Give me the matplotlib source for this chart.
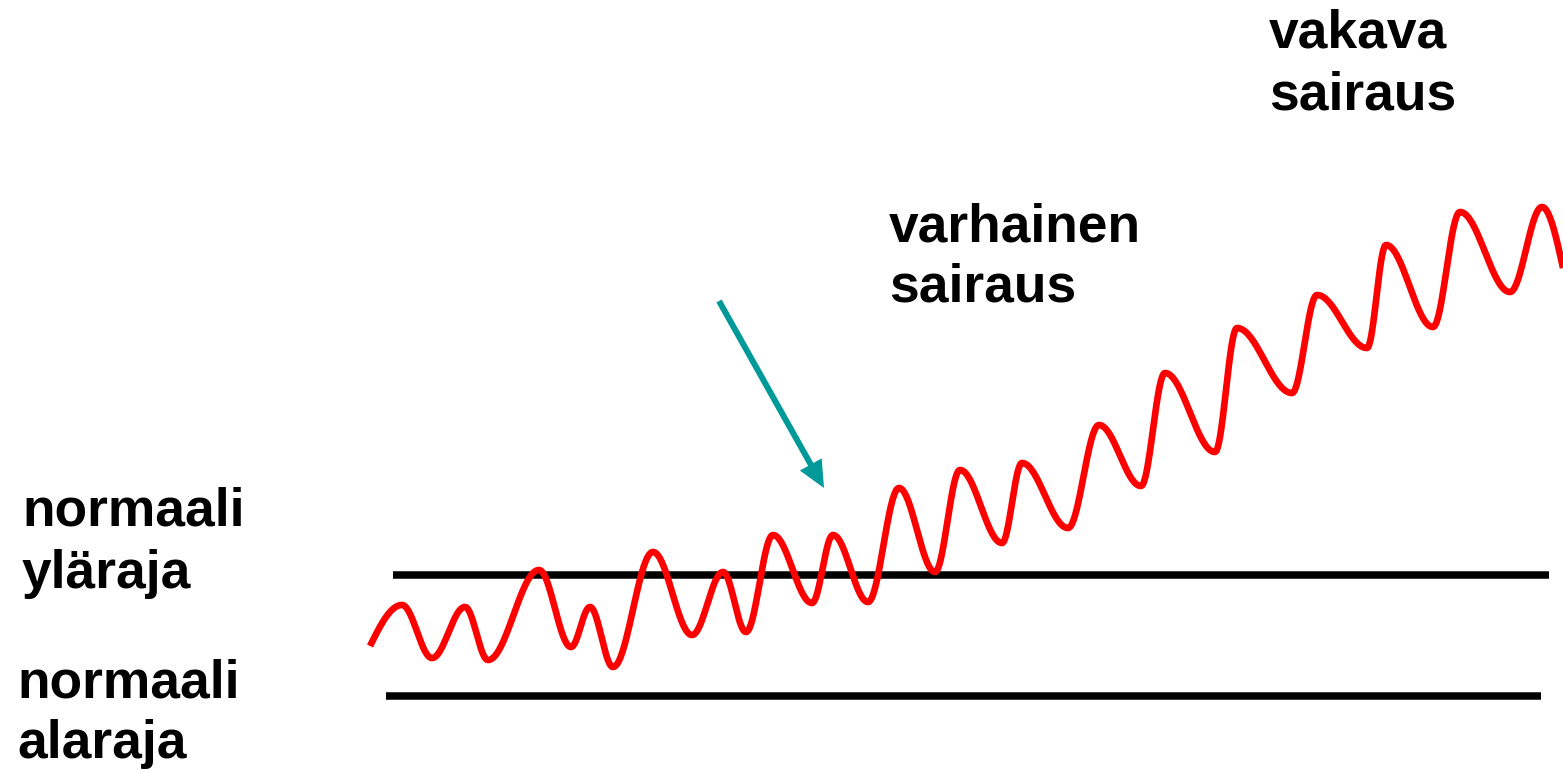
import matplotlib
matplotlib.use('Agg')
import matplotlib.pyplot as plt
import numpy as np
plt.rcParams['font.family'] = ['Liberation Sans', 'DejaVu Sans']

RED = '#FF0000'; TEAL = '#009999'; INK = '#000000'

# extrema of the red wave (pixel coords, y downwards); first and last are open ends
wave_x = [370, 402, 432, 465, 488, 539, 571, 590, 613, 653, 692, 723, 746,
          773, 812, 833, 868, 899, 935, 960, 1002, 1022, 1068, 1099, 1141,
          1165, 1215, 1237, 1292, 1317, 1367, 1386, 1433, 1460, 1510, 1542, 1563]
wave_y = [646, 605, 658, 607, 660, 570, 647, 607, 667, 552, 635, 572, 632,
          535, 603, 535, 602, 488, 572, 470, 543, 463, 528, 425, 486,
          373, 452, 328, 393, 295, 348, 245, 327, 212, 292, 207, 268]

# limit lines: (x start, x end, y)
upper_limit = (393, 1549, 575)
lower_limit = (386, 1541, 696)

# labels: (lines, x, baselines)
labels = [
    (['normaali', 'yläraja'], 22, [525, 588]),
    (['normaali', 'alaraja'], 17, [697, 758]),
    (['varhainen', 'sairaus'], 889, [241, 302]),
    (['vakava', 'sairaus'], 1269, [47, 110]),
]

arrow_start = (719, 301)
arrow_end = (824, 488)

fig = plt.figure(figsize=(15.63, 7.71), dpi=100)
ax = fig.add_axes([0, 0, 1, 1])
ax.set_xlim(0, 1563); ax.set_ylim(771, 0); ax.axis('off')

# smooth easing between successive extrema; open ends start/finish mid-slope
xs, ys = [], []
n = len(wave_x) - 1
for i in range(n):
    t = np.linspace(0, 1, 40)
    if i == 0:
        s = np.sin(np.pi / 2 * t)
    elif i == n - 1:
        s = 1 - np.cos(np.pi / 2 * t)
    else:
        s = (1 - np.cos(np.pi * t)) / 2
    xs.append(wave_x[i] + (wave_x[i+1] - wave_x[i]) * t)
    ys.append(wave_y[i] + (wave_y[i+1] - wave_y[i]) * s)
ax.plot(np.concatenate(xs), np.concatenate(ys), color=RED, lw=4.8,
        solid_capstyle='butt', solid_joinstyle='round', zorder=3)

for x0, x1, y in (upper_limit, lower_limit):
    ax.plot([x0, x1], [y, y], color=INK, lw=5.4, solid_capstyle='butt', zorder=2)

ax.arrow(arrow_start[0], arrow_start[1], arrow_end[0] - arrow_start[0], arrow_end[1] - arrow_start[1],
         width=6, head_width=25, head_length=27, length_includes_head=True,
         fc=TEAL, ec='none', zorder=4)

for lines, x, bases in labels:
    for txt, b in zip(lines, bases):
        ax.text(x, b, txt, fontsize=38.4, weight='bold', color=INK, ha='left', va='baseline')

fig.savefig('out.png', dpi=100, facecolor='white')
plt.close()
